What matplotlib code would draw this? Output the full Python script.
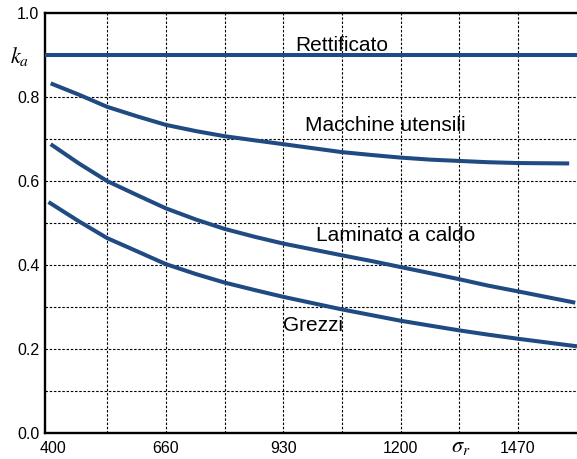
import matplotlib
matplotlib.use("Agg")
import matplotlib.pyplot as plt
from matplotlib.ticker import FixedLocator

plt.rcParams['font.family'] = ['Liberation Sans', 'DejaVu Sans']
plt.rcParams['mathtext.fontset'] = 'stix'

# Tensile strength sigma_r and surface factor k_a for each finish
sigma_ret = [382, 1606]
ka_ret = [0.9, 0.9]

sigma_mu = [395, 460, 525, 595, 660, 730, 795, 865, 930, 1065, 1135, 1200, 1270, 1335, 1400, 1470, 1588]
ka_mu = [0.833, 0.806, 0.777, 0.754, 0.734, 0.719, 0.707, 0.697, 0.688, 0.669, 0.662, 0.656, 0.651, 0.648, 0.645, 0.643, 0.642]

sigma_lc = [395, 460, 525, 595, 660, 730, 795, 865, 930, 1065, 1135, 1200, 1270, 1335, 1400, 1470, 1602]
ka_lc = [0.688, 0.642, 0.600, 0.566, 0.535, 0.508, 0.486, 0.467, 0.451, 0.423, 0.409, 0.395, 0.380, 0.366, 0.351, 0.337, 0.310]

sigma_gr = [390, 460, 525, 595, 660, 730, 795, 865, 930, 1065, 1135, 1200, 1270, 1335, 1400, 1470, 1606]
ka_gr = [0.550, 0.504, 0.464, 0.432, 0.402, 0.378, 0.358, 0.340, 0.324, 0.294, 0.280, 0.267, 0.255, 0.244, 0.234, 0.224, 0.206]

x_ticks = [400, 660, 930, 1200, 1470]
x_grid = [525, 660, 795, 930, 1065, 1200, 1335, 1470]
y_ticks = [0.0, 0.2, 0.4, 0.6, 0.8, 1.0]
y_grid = [0.1, 0.2, 0.3, 0.4, 0.5, 0.6, 0.7, 0.8, 0.9]

labels = ["Rettificato", "Macchine utensili", "Laminato a caldo", "Grezzi"]

fig = plt.figure(figsize=(5.77, 4.59), dpi=100)
ax = fig.add_axes([0.078, 0.0573, 0.922, 0.9137])

col = '#1f4a82'
lw = 2.9
for xs, ys in [(sigma_ret, ka_ret), (sigma_mu, ka_mu), (sigma_lc, ka_lc), (sigma_gr, ka_gr)]:
    ax.plot(xs, ys, color=col, lw=lw, zorder=3, solid_capstyle='butt', solid_joinstyle='round')

ax.set_xlim(382, 1606)
ax.set_ylim(0, 1.0)

ax.xaxis.set_major_locator(FixedLocator(x_ticks))
ax.yaxis.set_major_locator(FixedLocator(y_ticks))
ax.set_xticklabels([str(v) for v in x_ticks])
ax.set_yticklabels([f"{v:.1f}" for v in y_ticks])
ax.tick_params(axis='both', length=0, labelsize=11.5, colors='black')
ax.tick_params(axis='x', pad=6)
ax.tick_params(axis='y', pad=4)

grid_kw = dict(color='black', lw=0.8, linestyle=(0, (2.2, 1.6)), zorder=2.5)
for gx in x_grid:
    ax.axvline(gx, **grid_kw)
for gy in y_grid:
    ax.axhline(gy, **grid_kw)

for side in ['left', 'bottom', 'top']:
    ax.spines[side].set_linewidth(1.7)
    ax.spines[side].set_color('black')
ax.spines['right'].set_visible(False)


def px2x(px):
    return 382 + (px - 45) / 0.4346


def py2y(py):
    return (432.7 - py) / 419.4


fs = 15
label_pos = [(295, 45), (305, 125), (316, 235), (283, 325)]
for lab, (px, py) in zip(labels, label_pos):
    ax.text(px2x(px), py2y(py), lab, fontsize=fs, va='center', ha='left', zorder=1)

fig.text(10 / 577, 1 - 57 / 459, r'$k_a$', fontsize=16, va='center', ha='left')
fig.text(451 / 577, 0.004, r'$\sigma_r$', fontsize=16, va='bottom', ha='left')

fig.savefig('out.png', dpi=100)
